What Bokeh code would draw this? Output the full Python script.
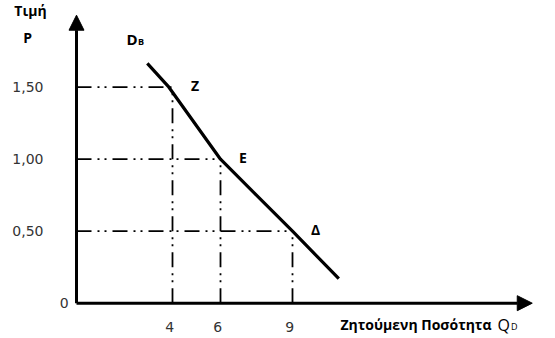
from bokeh.plotting import figure
from bokeh.models import Arrow, NormalHead, Range1d
from bokeh.core.properties import value
from bokeh.embed import file_html
from bokeh.resources import INLINE

# Demand curve D_B (as drawn)
curve_q = [2.95, 3.85, 6, 9, 10.93]
curve_p = [1.665, 1.5, 1.0, 0.5, 0.17]

# Marked points
point_q = [4, 6, 9]
point_p = [1.5, 1.0, 0.5]
point_names = ["Z", "E", "Δ"]

x_tick_labels = ["4", "6", "9"]
y_tick_values = [0.5, 1.0, 1.5]
y_tick_labels = ["0,50", "1,00", "1,50"]

W, H = 555, 338
px_per_x = 24.0
px_per_y = 144.0
x0_px = 76.0      # px of x=0
y0_px = 302.7     # px (from top) of y=0

p = figure(width=W, height=H, output_backend="svg", toolbar_location=None,
           x_range=Range1d(-x0_px / px_per_x, (W - x0_px) / px_per_x),
           y_range=Range1d(-(H - y0_px) / px_per_y, y0_px / px_per_y),
           min_border=0)
p.axis.visible = False
p.grid.visible = False
p.outline_line_color = None
p.background_fill_color = "white"
p.border_fill_color = "white"

dash = "15 6 2 5 2 6"
for q, pr in zip(point_q, point_p):
    p.line([0, q], [pr, pr], line_color="black", line_width=1.8, line_dash=dash)
    p.line([q, q], [0, pr], line_color="black", line_width=1.8, line_dash=dash)

p.line(curve_q, curve_p, line_color="black", line_width=3.2, line_join="round")

# axes with arrow heads
p.add_layout(Arrow(end=NormalHead(size=15, fill_color="black", line_color="black", line_width=1),
                   x_start=0, y_start=0, x_end=18.99, y_end=0,
                   line_color="black", line_width=3))
p.add_layout(Arrow(end=NormalHead(size=15, fill_color="black", line_color="black", line_width=1),
                   x_start=0, y_start=0, x_end=0, y_end=2.0,
                   line_color="black", line_width=3))

tick_font = value("DejaVu Sans")
bold_font = value("Open Sans")
mid = "middle"

# y tick labels
p.text(x=[-1.375] * len(y_tick_values), y=y_tick_values, text=y_tick_labels,
       text_font=tick_font, text_font_size="14px", text_color="#333333",
       text_align="right", text_baseline=mid)
p.text(x=[-0.33], y=[0.0], text=["0"], text_font=tick_font, text_font_size="14px",
       text_color="#333333", text_align="right", text_baseline=mid)

# x tick labels
p.text(x=[q - 0.12 for q in point_q], y=[-0.162] * len(point_q), text=x_tick_labels,
       text_font=tick_font, text_font_size="14px", text_color="#333333",
       text_align="center", text_baseline=mid)

# point names
p.text(x=[q + 0.77 for q in point_q], y=[pr + 0.01 for pr in point_p], text=point_names,
       text_font=bold_font, text_font_style="bold", text_font_size="14px", text_color="black",
       text_align="left", text_baseline=mid)

# curve label D_B
p.text(x=[2.083], y=[1.838], text=["D"], text_font=bold_font, text_font_style="bold",
       text_font_size="15px", text_color="black", text_align="left", text_baseline=mid)
p.text(x=[2.56], y=[1.82], text=["B"], text_font=bold_font, text_font_style="bold",
       text_font_size="9px", text_color="black", text_align="left", text_baseline=mid)

# y axis title
p.text(x=[-1.917], y=[2.033], text=["Τιμή"], text_font=bold_font, text_font_style="bold",
       text_font_size="14px", text_color="black", text_align="center", text_baseline=mid)
p.text(x=[-2.04], y=[1.845], text=["P"], text_font=bold_font, text_font_style="bold",
       text_font_size="14px", text_color="black", text_align="center", text_baseline=mid)

# x axis title
p.text(x=[11.0], y=[-0.148], text=["Ζητούμενη Ποσότητα"], text_font=bold_font,
       text_font_style="bold", text_font_size="14px", text_color="black",
       text_align="left", text_baseline=mid)
p.text(x=[17.54], y=[-0.148], text=["Q"], text_font=bold_font, text_font_size="16px",
       text_color="black", text_align="left", text_baseline=mid)
p.text(x=[18.1], y=[-0.162], text=["D"], text_font=bold_font, text_font_size="9px",
       text_color="black", text_align="left", text_baseline=mid)

open("out.html", "w").write(file_html(p, INLINE))
